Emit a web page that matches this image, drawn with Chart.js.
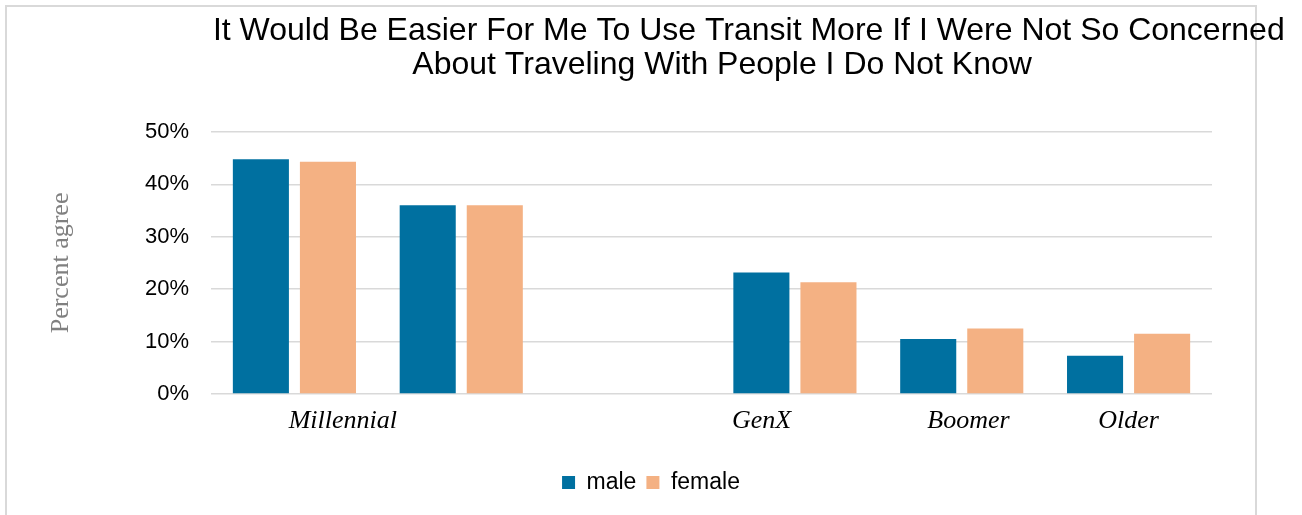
<!DOCTYPE html>
<html>
<head>
<meta charset="utf-8">
<script src="https://cdn.jsdelivr.net/npm/chart.js@4"></script>
<style>
  html, body { margin: 0; padding: 0; background: #fff; }
  #wrap { position: relative; width: 1302px; height: 515px; overflow: hidden; }
  #frame { position: absolute; left: 5px; top: 5px; width: 1252px; height: 560px;
           box-sizing: border-box; border: 2px solid #d9d9d9; }
  #box { position: absolute; left: 0; top: 0; width: 1302px; height: 515px; }
</style>
</head>
<body>
<div id="wrap">
  <div id="frame"></div>
  <div id="box"><canvas id="myChart"></canvas></div>
</div>
<script>
// chart data
const categories = ['Millennial', '', '', 'GenX', 'Boomer', 'Older'];
const maleValues = [44.8, 36.0, null, 23.2, 10.5, 7.3];
const femaleValues = [44.3, 36.0, null, 21.3, 12.5, 11.5];
const seriesNames = ['male', 'female'];
const yTickValues = [0, 10, 20, 30, 40, 50];
// category labels and where they sit along the category axis (slot units)
const tickLabels = ['Millennial', 'GenX', 'Boomer', 'Older'];
const labelSlots = [0.29, 2.8, 4.04, 5.0];

const titleLines = [
    'It Would Be Easier For Me To Use Transit More If I Were Not So Concerned',
    'About Traveling With People I Do Not Know'
];

const sans = "'Liberation Sans', Arial, sans-serif";
const serif = "'Liberation Serif', 'Times New Roman', serif";

function initChart() {
    const ctx = document.getElementById('myChart').getContext('2d');
    new Chart(ctx, {
        type: 'bar',
        data: {
            labels: categories,
            datasets: [{
                label: seriesNames[0],
                data: maleValues,
                backgroundColor: '#0070a0',
                categoryPercentage: 0.804,
                barPercentage: 0.836
            }, {
                label: seriesNames[1],
                data: femaleValues,
                backgroundColor: '#f4b183',
                categoryPercentage: 0.804,
                barPercentage: 0.836
            }]
        },
        options: {
            responsive: true,
            maintainAspectRatio: false,
            animation: false,
            layout: { padding: { left: 0, right: 0, top: 0, bottom: 11 } },
            scales: {
                x: {
                    type: 'category',
                    display: false
                },
                xl: {
                    // same span as the category axis: slot i sits at value i
                    type: 'linear',
                    position: 'bottom',
                    offset: false,
                    bounds: 'data',
                    min: -0.5,
                    max: 5.5,
                    grid: { display: false, drawTicks: false, offset: false },
                    border: { display: false },
                    afterBuildTicks: function(axis) {
                        axis.ticks = labelSlots.map(v => ({ value: v }));
                        axis.min = -0.5;
                        axis.max = 5.5;
                    },
                    afterFit: function(axis) { axis.height = 67; },
                    ticks: {
                        autoSkip: false,
                        maxRotation: 0,
                        padding: 12,
                        color: '#000',
                        font: { family: serif, size: 26, style: 'italic' },
                        callback: function(value, index) {
                            return tickLabels[index];
                        }
                    }
                },
                y: {
                    min: 0,
                    max: 50,
                    afterBuildTicks: function(axis) {
                        axis.ticks = yTickValues.map(v => ({ value: v }));
                    },
                    afterFit: function(axis) { axis.width = 211; },
                    grid: { color: '#d9d9d9', lineWidth: 1.5, drawTicks: false },
                    border: { display: false },
                    ticks: {
                        padding: 22,
                        color: '#000',
                        font: { family: sans, size: 22 },
                        callback: function(value) { return value + '%'; }
                    },
                    title: {
                        display: true,
                        text: 'Percent agree',
                        color: '#808080',
                        padding: { top: 46, bottom: 0 },
                        font: { family: serif, size: 26 }
                    }
                },
                y2: {
                    position: 'right',
                    grid: { display: false, drawTicks: false },
                    border: { display: false },
                    ticks: { display: false },
                    afterFit: function(axis) { axis.width = 90; }
                }
            },
            plugins: {
                title: {
                    display: true,
                    // leading spaces push each centred line to where it sits in the original
                    text: [
                        ' '.repeat(22) + titleLines[0],
                        ' '.repeat(16) + titleLines[1]
                    ],
                    color: '#000',
                    font: { family: sans, size: 32, weight: 'normal', lineHeight: 1.053 },
                    padding: { top: 14.5, bottom: 50 }
                },
                legend: {
                    position: 'bottom',
                    labels: {
                        boxWidth: 13,
                        boxHeight: 13,
                        padding: 10,
                        color: '#000',
                        font: { family: sans, size: 23 }
                    }
                },
                tooltip: { enabled: false }
            }
        }
    });
}

document.addEventListener('DOMContentLoaded', initChart);
</script>
</body>
</html>
